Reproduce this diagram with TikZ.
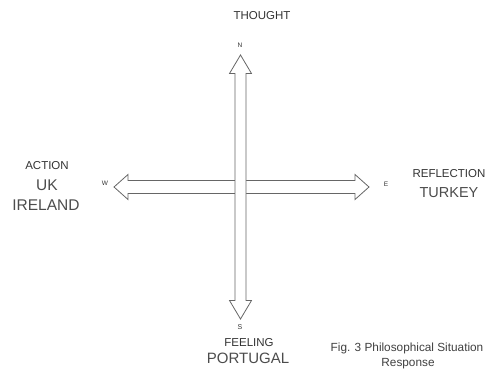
\documentclass[tikz,border=0pt]{standalone}
\usepackage{fontspec}
\setmainfont{Liberation Sans}
\usetikzlibrary{calc}
\begin{document}
\begin{tikzpicture}[x=1pt,y=-1pt,
  arrowline/.style={draw=black!60, line width=0.8pt, line join=miter, fill=white},
  lbl/.style={text=black!80, anchor=base, inner sep=0pt, font=\fontsize{11.5}{12}\selectfont},
  country/.style={text=black!70, anchor=base, inner sep=0pt, font=\fontsize{15.5}{16}\selectfont},
  dir/.style={text=black!80, anchor=base, inner sep=0pt, font=\fontsize{6.5}{7}\selectfont},
  caption/.style={text=black!75, anchor=base, inner sep=0pt, font=\fontsize{11.8}{12}\selectfont}]
\useasboundingbox (0,0) rectangle (489,369);
% tips
\coordinate (wtip) at (114,187);
\coordinate (etip) at (369,187);
\coordinate (ntip) at (240.5,55);
\coordinate (stip) at (240.5,319);
% horizontal double arrow
\draw[arrowline] (wtip) -- ++(14,-12.5) -- ++(0,6) -- ($(etip)+(-14,-6.5)$) -- ++(0,-6) -- (etip)
  -- ++(-14,12.5) -- ++(0,-6) -- ($(wtip)+(14,6.5)$) -- ++(0,6) -- cycle;
% vertical double arrow
\draw[arrowline] (ntip) -- ++(11,18.5) -- ++(-5.5,0) -- ($(stip)+(5.5,-18.5)$) -- ++(5.5,0) -- (stip)
  -- ++(-11,-18.5) -- ++(5.5,0) -- ($(ntip)+(-5.5,18.5)$) -- ++(-5.5,0) -- cycle;
% labels
\node[lbl] (thought) at (262,19.1) {THOUGHT};
\node[dir] (n) at (240,47.5) {N};
\node[lbl] (action) at (47,169.1) {ACTION};
\node[country] (uk) at (47,190.5) {UK};
\node[country] (ireland) at (46,210.5) {IRELAND};
\node[dir] (w) at (105,185.5) {W};
\node[dir] (e) at (386,186.5) {E};
\node[lbl] (reflection) at (449,177.1) {REFLECTION};
\node[country, font=\fontsize{14.5}{15}\selectfont] (turkey) at (449,197.2) {TURKEY};
\node[dir, font=\fontsize{7}{8}\selectfont] (s) at (240,329.5) {S};
\node[lbl] (feeling) at (249,346.1) {FEELING};
\node[country, font=\fontsize{15}{16}\selectfont] (portugal) at (248,363.4) {PORTUGAL};
\node[caption] (fig) at (407,351) {Fig. 3 Philosophical Situation};
\node[caption] (resp) at (408,366) {Response};
\end{tikzpicture}
\end{document}
